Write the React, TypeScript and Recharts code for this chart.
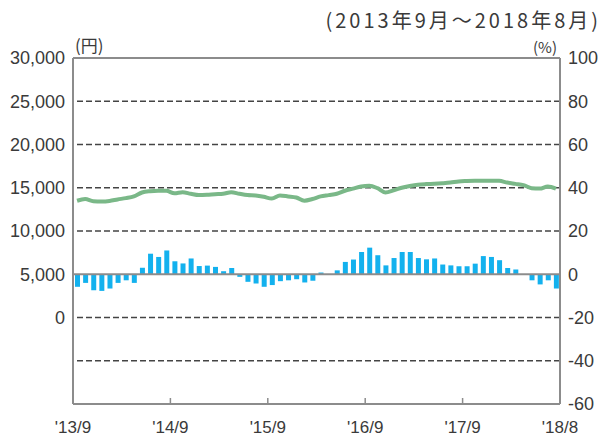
import React from "react";
import {
  ComposedChart,
  Bar,
  Line,
  XAxis,
  YAxis,
  ReferenceLine,
} from "recharts";

// 2013/9 .. 2018/8, one entry per month
const months: string[] = [];
for (let y = 2013, m = 9; months.length < 60; ) {
  months.push(`${y}/${m}`);
  m++;
  if (m > 12) {
    m = 1;
    y++;
  }
}

// price (yen), left axis
const price = [
  13500, 13700, 13450, 13420, 13480, 13650, 13800, 14000, 14450, 14600,
  14650, 14650, 14350, 14480, 14300, 14150, 14180, 14250, 14300, 14480,
  14300, 14150, 14100, 13950, 13750, 14100, 14000, 13880, 13500, 13700,
  14000, 14150, 14300, 14650, 14900, 15150, 15230, 14950, 14450, 14700,
  15000, 15200, 15350, 15420, 15460, 15520, 15600, 15730, 15780, 15810,
  15820, 15820, 15800, 15600, 15450, 15300, 14950, 14900, 15150, 14900,
];

// year-on-year change (%), right axis
const change = [
  -5.8, -4, -7.4, -7.7, -6.6, -4, -2.8, -4, 3, 9.5,
  8, 11, 6, 5, 7.3, 3.8, 4, 3.4, 1.4, 2.9,
  -1.2, -3.5, -4.3, -5.8, -5, -3.2, -2.8, -2.3, -3.8, -3,
  0.8, 0, 1.8, 5.7, 6.8, 10.3, 12.3, 8.8, 4.1, 7.5,
  10.3, 10.3, 7.5, 6.9, 7.3, 4.5, 4.1, 3.7, 3.7, 4.9,
  8.4, 8, 6.5, 2.9, 2.2, 0, -2.8, -4.7, -2.8, -6.6,
];

const xTickPos = [0, 12, 24, 36, 48, 60];
const xTickLabels = ["'13/9", "'14/9", "'15/9", "'16/9", "'17/9", "'18/8"];
const yenTicks = [0, 5000, 10000, 15000, 20000, 25000, 30000];
const pctTicks = [-60, -40, -20, 0, 20, 40, 60, 80, 100];
const dashedAt = [80, 60, 40, 20, -20, -40];

const data = months.map((month, i) => ({
  month,
  x: i + 0.5,
  price: price[i],
  change: change[i],
}));

const FONT = "'Liberation Sans', Arial, sans-serif";
const CJK = "'Noto Sans CJK JP', sans-serif";
const TEXT = "#3a3a3a";
const AXIS = "#8c8c8c";
const X_MARGIN = 17;

function XTick(props: any) {
  const { x, y, payload } = props;
  const idx = xTickPos.indexOf(payload.value);
  const axisY = y - X_MARGIN;
  const inner = idx > 0 && idx < xTickPos.length - 1;
  return (
    <g>
      {inner && <line x1={x} x2={x} y1={axisY - 6} y2={axisY} stroke={AXIS} strokeWidth={1.5} />}
      <text x={x} y={y} dy="0.71em" textAnchor="middle" fill={TEXT} fontSize={17} fontFamily={FONT}>
        {xTickLabels[idx]}
      </text>
    </g>
  );
}

export default function App() {
  return (
    <div style={{ position: "absolute", left: 0, top: 0, width: 604, height: 439, background: "#fff" }}>
      <ComposedChart
        width={604}
        height={439}
        data={data}
        margin={{ top: 58, right: 4, left: 8, bottom: 5 }}
      >
        <XAxis
          dataKey="x"
          type="number"
          domain={[0, 60]}
          ticks={xTickPos}
          interval={0}
          tickLine={false}
          tickSize={0}
          tickMargin={X_MARGIN}
          height={30}
          axisLine={{ stroke: AXIS, strokeWidth: 2 }}
          tick={<XTick />}
        />
        <YAxis
          yAxisId="yen"
          orientation="left"
          domain={[-10000, 30000]}
          ticks={yenTicks}
          interval={0}
          width={65}
          tickLine={false}
          axisLine={{ stroke: AXIS, strokeWidth: 2 }}
          tickFormatter={(v: number) => v.toLocaleString("en-US")}
          tick={{ fill: TEXT, fontSize: 18, fontFamily: FONT }}
        />
        <YAxis
          yAxisId="pct"
          orientation="right"
          domain={[-60, 100]}
          ticks={pctTicks}
          interval={0}
          width={40}
          tickLine={false}
          axisLine={{ stroke: AXIS, strokeWidth: 2 }}
          tick={{ fill: TEXT, fontSize: 18, fontFamily: FONT }}
        />
        {dashedAt.map((v) => (
          <ReferenceLine key={v} yAxisId="pct" y={v} stroke="#444" strokeWidth={1.3} strokeDasharray="6 3" />
        ))}
        <ReferenceLine yAxisId="pct" y={100} stroke={AXIS} strokeWidth={2} />
        <Bar
          yAxisId="pct"
          dataKey="change"
          fill="#13b1ee"
          barSize={5}
          isAnimationActive={false}
        />
        <ReferenceLine yAxisId="pct" y={0} stroke={AXIS} strokeWidth={2} />
        <Line
          yAxisId="yen"
          dataKey="price"
          type="monotone"
          stroke="#7ab888"
          strokeWidth={4}
          dot={false}
          isAnimationActive={false}
        />
        <text x={75} y={52} fontSize={17} fill={TEXT} fontFamily={CJK}>
          (円)
        </text>
        <text x={557} y={53} textAnchor="end" fontSize={15} fill={TEXT} fontFamily={CJK}>
          (%)
        </text>
        <text
          x={601}
          y={28}
          textAnchor="end"
          fontSize={20}
          letterSpacing={3}
          fill={TEXT}
          fontFamily={CJK}
        >
          (2013年9月～2018年8月)
        </text>
      </ComposedChart>
    </div>
  );
}
